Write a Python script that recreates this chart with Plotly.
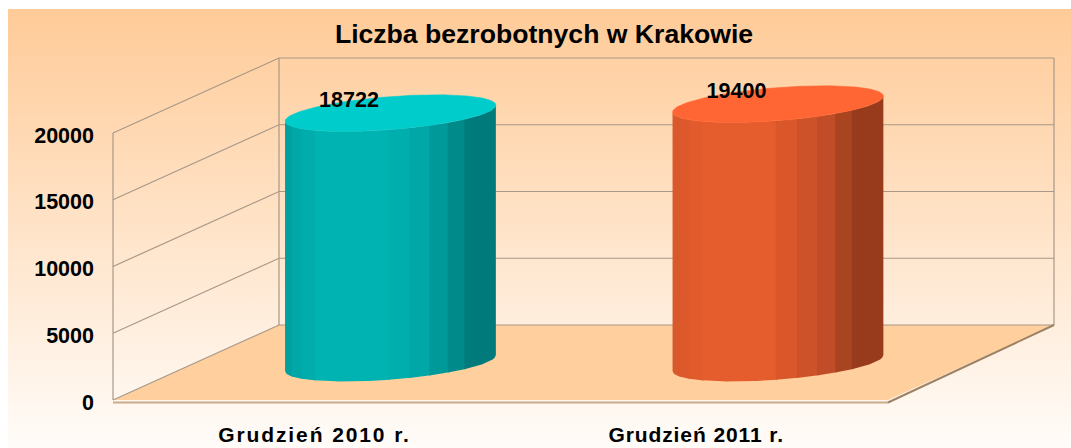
import numpy as np
import plotly.graph_objects as go

# ---- data ----
categories = ["Grudzień 2010 r.", "Grudzień 2011 r."]
values = [18722, 19400]
value_ticks = [0, 5000, 10000, 15000, 20000]
title_text = "Liczba bezrobotnych w Krakowie"

# ---- styles ----
band_edges = [0, .032, .079, .142, .49, .59, .685, .772, .851, 1]
teal_bands = ["#00A0A0", "#00A7A7", "#00ACAC", "#00B3B3", "#00AEAE", "#00A7A7", "#009999", "#008A8A", "#007A7A"]
orange_bands = ["#D9582C", "#DD592C", "#E15B2D", "#E55C2D", "#D9572B", "#CE5229", "#C04D27", "#A8441F", "#983B1C"]
band_sets = [teal_bands, orange_bands]
top_colors = ["#00CCCC", "#FF6633"]
line_col = "#A89888"
font_name = "Liberation Sans"

W, H = 1071, 448
PX_CAT = 387.5            # pixels per category on the front plane
PX_VAL = 267 / 20000      # pixels per value unit
X0, Y0 = 113, 400         # pixel of category 0 / value 0 on the front plane
DX = 166 / PX_CAT         # depth shift along x
DY = 75 / PX_VAL          # depth shift along y

def px2x(p): return (p - X0) / PX_CAT
def px2y(p): return (Y0 - p) / PX_VAL
def pr(c, v, d): return c + d * DX, v + d * DY

fig = go.Figure()

# background gradient
bx = [px2x(8), px2x(W), px2x(W), px2x(8), px2x(8)]
by = [px2y(9), px2y(9), px2y(H), px2y(H), px2y(9)]
fig.add_trace(go.Scatter(x=bx, y=by, mode="lines", line=dict(width=0), fill="toself",
                         fillgradient=dict(type="vertical",
                                           colorscale=[[0, "#FFFCF9"], [1, "#FFCB98"]]),
                         hoverinfo="skip"))

# floor
n = len(categories)
corners = [pr(0, 0, 0), pr(0, 0, 1), pr(n, 0, 1), pr(n, 0, 0), pr(0, 0, 0)]
fig.add_trace(go.Scatter(x=[p[0] for p in corners], y=[p[1] for p in corners], mode="lines",
                         line=dict(width=0), fill="toself", fillcolor="#FFCF9E", hoverinfo="skip"))

# walls and gridlines
gx, gy = [], []
for v in value_ticks:
    for a in (pr(0, v, 0), pr(0, v, 1), pr(n, v, 1)):
        gx.append(a[0]); gy.append(a[1])
    gx.append(None); gy.append(None)
for c, d in ((0, 0), (0, 1), (n, 1)):
    a, b = pr(c, 0, d), pr(c, max(value_ticks), d)
    gx += [a[0], b[0], None]; gy += [a[1], b[1], None]
fig.add_trace(go.Scatter(x=gx, y=gy, mode="lines", line=dict(color=line_col, width=1.2), hoverinfo="skip"))

# floor edges
thick = 2.5 / PX_VAL
a, b, c = pr(0, -thick, 0), pr(n, -thick, 0), pr(n, 0, 1)
fig.add_trace(go.Scatter(x=[a[0], b[0]], y=[a[1], b[1]], mode="lines",
                         line=dict(color="#C8AA8C", width=2), hoverinfo="skip"))
fig.add_trace(go.Scatter(x=[b[0], c[0]], y=[b[1], c[1]], mode="lines",
                         line=dict(color="#9C8264", width=2), hoverinfo="skip"))

# cylinders
A = 105.4 / PX_CAT
B = 16.5 / PX_VAL
S = 8 / PX_VAL
for i, val in enumerate(values):
    cx, base = pr(i + 0.5, 0, 0.5)
    cx += 0.7 / PX_CAT
    base -= 0.6 / PX_VAL
    top = base + val
    for k, col in enumerate(band_sets[i]):
        right = min(band_edges[k + 1] + 0.006, 1)
        t = np.linspace(band_edges[k], right, 30)
        u = t * 2 - 1                   # -1..1 across the diameter
        xs = cx + A * u
        low = base - B * np.sqrt(1 - u ** 2) + S * u
        high = top - B * np.sqrt(1 - u ** 2) + S * u
        fig.add_trace(go.Scatter(x=np.r_[xs, xs[::-1]], y=np.r_[low, high[::-1]], mode="lines",
                                 line=dict(width=0), fill="toself", fillcolor=col,
                                 hoverinfo="skip"))
    t = np.linspace(0, 2 * np.pi, 181)
    fig.add_trace(go.Scatter(x=cx + A * np.cos(t), y=top + B * np.sin(t) + S * np.cos(t),
                             mode="lines", line=dict(color=top_colors[i], width=0.6), fill="toself",
                             fillcolor=top_colors[i], hoverinfo="skip"))
    # data label
    fig.add_trace(go.Scatter(x=[cx - 41.5 / PX_CAT], y=[top + 11.5 / PX_VAL], mode="text",
                             text=["<b>%d</b>" % val], textposition="middle center",
                             textfont=dict(family=font_name, size=21.5, color="#000000"),
                             hoverinfo="skip"))

fig.update_layout(
    width=W, height=H, margin=dict(l=0, r=0, t=0, b=0), showlegend=False,
    paper_bgcolor="#FFFFFF", plot_bgcolor="rgba(0,0,0,0)",
    title=dict(text="<b>" + title_text + "</b>", x=544 / W, xanchor="center", y=1 - 34 / H, yanchor="middle",
               font=dict(family=font_name, size=26.6, color="#000000")),
    xaxis=dict(range=[px2x(0), px2x(W)], domain=[0, 1], anchor="free", position=(H - 403) / H,
               showgrid=False, zeroline=False, showline=False, ticks="",
               tickmode="array", tickvals=[0.52, 1.505], ticktext=["<b>%s</b>" % c for c in categories],
               ticklabelstandoff=17,
               tickfont=dict(family=font_name, size=21, color="#000000")),
    yaxis=dict(range=[px2y(H), px2y(0)], domain=[0, 1], anchor="free", position=X0 / W,
               showgrid=False, zeroline=False, showline=False, ticks="",
               tickmode="array", tickvals=value_ticks, ticktext=["<b>%d</b>" % v for v in value_ticks],
               ticklabelstandoff=19, ticklabelshift=2,
               tickfont=dict(family=font_name, size=21.5, color="#000000")),
)

post = """
document.body.style.margin='0';
document.documentElement.style.overflow='hidden';
var sp=['1.9px','0.9px'];
document.querySelectorAll('.xtick text').forEach(function(t,i){t.style.letterSpacing=sp[i%2];});
"""
fig.write_html("out.html", config=dict(displayModeBar=False), post_script=post)
